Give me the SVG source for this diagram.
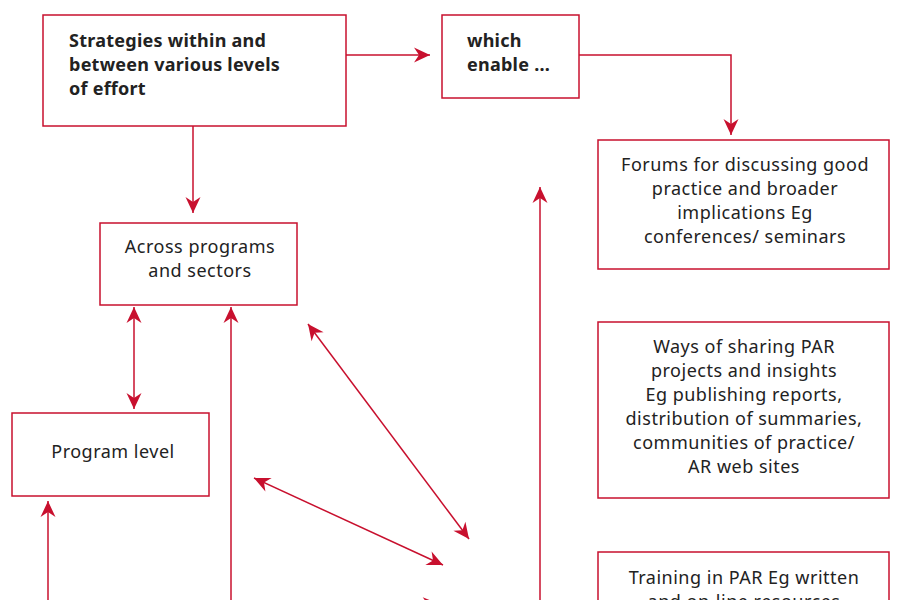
<svg xmlns="http://www.w3.org/2000/svg" width="900" height="600" viewBox="0 0 900 600">
<style>
.box{fill:#fff;stroke:#c8102e;stroke-width:1.5}
.t{font-family:"Noto Sans","Open Sans",sans-serif;font-size:18px;fill:#222;letter-spacing:0.5px}
.c{text-anchor:middle}
.b{font-weight:bold;letter-spacing:0.25px}
.ln{fill:none;stroke:#c8102e;stroke-width:1.5}
</style>
<defs>
<marker id="ah" viewBox="-17 -8 18 16" markerWidth="18" markerHeight="16" refX="0" refY="0" orient="auto-start-reverse" markerUnits="userSpaceOnUse">
<path d="M0,0 L-16,-7.5 L-11,0 L-16,7.5 Z" fill="#c8102e"/>
</marker>
</defs>
<rect width="900" height="600" fill="#fff"/>
<g id="connectors">
<line class="ln" x1="346" y1="55" x2="430" y2="55" marker-end="url(#ah)"/>
<polyline class="ln" points="579,55 731,55 731,135" marker-end="url(#ah)"/>
<line class="ln" x1="193" y1="126" x2="193" y2="213" marker-end="url(#ah)"/>
<line class="ln" x1="134" y1="307" x2="134" y2="409" marker-start="url(#ah)" marker-end="url(#ah)"/>
<line class="ln" x1="231" y1="620" x2="231" y2="307" marker-end="url(#ah)"/>
<line class="ln" x1="48" y1="620" x2="48" y2="501" marker-end="url(#ah)"/>
<line class="ln" x1="540" y1="620" x2="540" y2="187" marker-end="url(#ah)"/>
<line class="ln" x1="308" y1="324" x2="469" y2="539" marker-start="url(#ah)" marker-end="url(#ah)"/>
<line class="ln" x1="254" y1="478" x2="443" y2="565" marker-start="url(#ah)" marker-end="url(#ah)"/>
<line class="ln" x1="250" y1="612" x2="439" y2="604" marker-end="url(#ah)"/>
</g>
<g id="strategies">
<rect class="box" x="43" y="15" width="303" height="111"/>
<text class="t b" x="69" y="47">Strategies within and</text>
<text class="t b" x="69" y="71">between various levels</text>
<text class="t b" x="69" y="95">of effort</text>
</g>
<g id="enable">
<rect class="box" x="442" y="15" width="137" height="83"/>
<text class="t b" x="467" y="47">which</text>
<text class="t b" x="467" y="71">enable ...</text>
</g>
<g id="forums">
<rect class="box" x="598" y="140" width="291" height="129"/>
<text class="t c" x="745" y="171">Forums for discussing good</text>
<text class="t c" x="745" y="195">practice and broader</text>
<text class="t c" x="745" y="219">implications Eg</text>
<text class="t c" x="745" y="243">conferences/ seminars</text>
</g>
<g id="across">
<rect class="box" x="100" y="223" width="197" height="82"/>
<text class="t c" x="200" y="253">Across programs</text>
<text class="t c" x="200" y="277">and sectors</text>
</g>
<g id="ways">
<rect class="box" x="598" y="322" width="291" height="176"/>
<text class="t c" x="744" y="353">Ways of sharing PAR</text>
<text class="t c" x="744" y="377">projects and insights</text>
<text class="t c" x="744" y="401">Eg publishing reports,</text>
<text class="t c" x="744" y="425">distribution of summaries,</text>
<text class="t c" x="744" y="449">communities of practice/</text>
<text class="t c" x="744" y="473">AR web sites</text>
</g>
<g id="program">
<rect class="box" x="12" y="413" width="197" height="83"/>
<text class="t c" x="113" y="458">Program level</text>
</g>
<g id="training">
<rect class="box" x="598" y="552" width="291" height="80"/>
<text class="t c" x="744" y="584">Training in PAR Eg written</text>
<text class="t c" x="744" y="608">and on-line resources</text>
</g>
</svg>
